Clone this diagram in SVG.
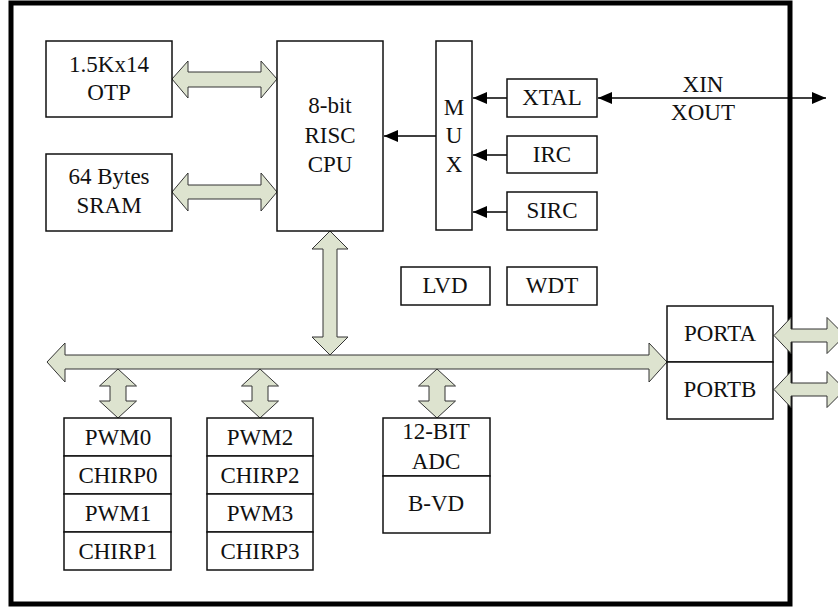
<svg xmlns="http://www.w3.org/2000/svg" width="838" height="607" viewBox="0 0 838 607">
<defs>
<style>
.box{fill:#fff;stroke:#111;stroke-width:1.5}
.blk{fill:#dde3cf;stroke:#333;stroke-width:1}
.ln{stroke:#000;stroke-width:1.5;fill:none}
.t{font-family:'Liberation Serif','DejaVu Serif',serif;font-size:23px;fill:#111;text-anchor:middle}
</style>
<marker id="ah" viewBox="0 0 14 12" refX="14" refY="6" markerWidth="14" markerHeight="12" markerUnits="userSpaceOnUse" orient="auto-start-reverse">
<path d="M0,0 L14,6 L0,12 Z" fill="#000"/>
</marker>
</defs>
<rect x="11" y="3" width="779" height="601" fill="#fff" stroke="#000" stroke-width="5"/>

<g id="connectors">
<path class="blk" d="M172,79 L188,61 L188,72 L261,72 L261,61 L277,79 L261,98 L261,87 L188,87 L188,98 Z"/>
<path class="blk" d="M172,192 L188,173 L188,185 L261,185 L261,173 L277,192 L261,211 L261,199 L188,199 L188,211 Z"/>
<path class="blk" d="M330,231 L348,249 L337,249 L337,337 L348,337 L330,355 L312,337 L323,337 L323,249 L312,249 Z"/>
<path class="blk" d="M47,362 L65,343 L65,355 L649,355 L649,343 L667,362 L649,382 L649,369 L65,369 L65,382 Z"/>
<path class="blk" d="M118,369 L136.5,386 L126,386 L126,401 L136.5,401 L118,418 L99.5,401 L110,401 L110,386 L99.5,386 Z"/>
<path class="blk" d="M260,369 L278.5,386 L268,386 L268,401 L278.5,401 L260,418 L241.5,401 L252,401 L252,386 L241.5,386 Z"/>
<path class="blk" d="M437,369 L455.5,386 L445,386 L445,401 L455.5,401 L437,418 L418.5,401 L429,401 L429,386 L418.5,386 Z"/>
<path class="blk" d="M774,335.5 L791,317.5 L791,329 L827,329 L827,317.5 L845,335.5 L827,353.5 L827,342 L791,342 L791,353.5 Z"/>
<path class="blk" d="M774,389.5 L791,371.5 L791,383 L827,383 L827,371.5 L845,389.5 L827,407.5 L827,396 L791,396 L791,407.5 Z"/>
<line class="ln" x1="436" y1="136" x2="384" y2="136" marker-end="url(#ah)"/>
<line class="ln" x1="507" y1="98" x2="473" y2="98" marker-end="url(#ah)"/>
<line class="ln" x1="507" y1="155" x2="473" y2="155" marker-end="url(#ah)"/>
<line class="ln" x1="507" y1="212" x2="473" y2="212" marker-end="url(#ah)"/>
<line class="ln" x1="598" y1="98" x2="826" y2="98" marker-start="url(#ah)" marker-end="url(#ah)"/>
</g>

<g font-family="Liberation Serif, serif">
<g id="otp"><rect class="box" x="46" y="41" width="126" height="76"/><text class="t" x="109" y="72">1.5Kx14</text><text class="t" x="109" y="100">OTP</text></g>
<g id="sram"><rect class="box" x="46" y="154" width="126" height="77"/><text class="t" x="109" y="184">64 Bytes</text><text class="t" x="109" y="213">SRAM</text></g>
<g id="cpu"><rect class="box" x="277" y="41" width="106" height="190"/><text class="t" x="330" y="113">8-bit</text><text class="t" x="330" y="143">RISC</text><text class="t" x="330" y="172">CPU</text></g>
<g id="mux"><rect class="box" x="436" y="41" width="36" height="189"/><text class="t" x="454" y="115">M</text><text class="t" x="454" y="143">U</text><text class="t" x="454" y="172">X</text></g>
<g id="xtal"><rect class="box" x="507" y="79" width="90" height="38"/><text class="t" x="552" y="105">XTAL</text></g>
<g id="irc"><rect class="box" x="507" y="136" width="90" height="37"/><text class="t" x="552" y="162">IRC</text></g>
<g id="sirc"><rect class="box" x="507" y="192" width="90" height="38"/><text class="t" x="552" y="218">SIRC</text></g>
<g id="xinout"><text class="t" x="703" y="92">XIN</text><text class="t" x="703" y="120">XOUT</text></g>
<g id="lvd"><rect class="box" x="401" y="267" width="89" height="38"/><text class="t" x="445" y="293">LVD</text></g>
<g id="wdt"><rect class="box" x="507" y="267" width="90" height="38"/><text class="t" x="552" y="293">WDT</text></g>
<g id="ports"><rect class="box" x="667" y="306" width="106" height="56"/><rect class="box" x="667" y="362" width="106" height="57"/><text class="t" x="720" y="341">PORTA</text><text class="t" x="720" y="397">PORTB</text></g>
<g id="pwm01">
<rect class="box" x="64" y="418" width="107" height="38"/><rect class="box" x="64" y="456" width="107" height="38"/><rect class="box" x="64" y="494" width="107" height="38"/><rect class="box" x="64" y="532" width="107" height="38"/>
<text class="t" x="118" y="445">PWM0</text><text class="t" x="118" y="483">CHIRP0</text><text class="t" x="118" y="521">PWM1</text><text class="t" x="118" y="559">CHIRP1</text>
</g>
<g id="pwm23">
<rect class="box" x="207" y="418" width="106" height="38"/><rect class="box" x="207" y="456" width="106" height="38"/><rect class="box" x="207" y="494" width="106" height="38"/><rect class="box" x="207" y="532" width="106" height="38"/>
<text class="t" x="260" y="445">PWM2</text><text class="t" x="260" y="483">CHIRP2</text><text class="t" x="260" y="521">PWM3</text><text class="t" x="260" y="559">CHIRP3</text>
</g>
<g id="adc">
<rect class="box" x="383" y="418" width="107" height="58"/><rect class="box" x="383" y="476" width="107" height="57"/>
<text class="t" x="436" y="439">12-BIT</text><text class="t" x="436" y="469">ADC</text><text class="t" x="436" y="511">B-VD</text>
</g>
</g>
</svg>
